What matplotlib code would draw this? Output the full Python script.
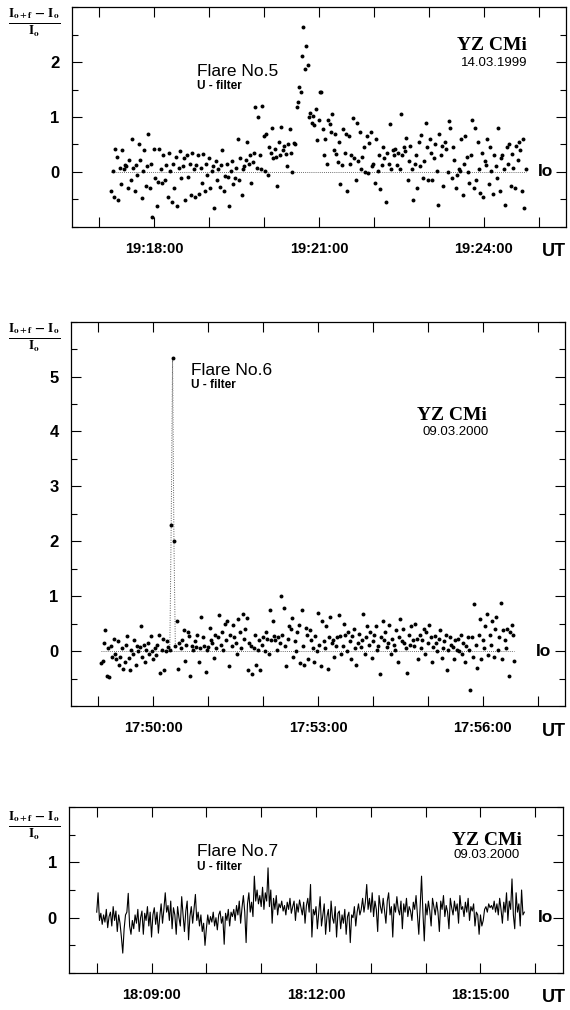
import numpy as np
import matplotlib
matplotlib.use("Agg")
import matplotlib.pyplot as plt
from matplotlib.ticker import MultipleLocator, FixedLocator

plt.rcParams['font.family'] = 'Liberation Sans'
plt.rcParams['mathtext.fontset'] = 'stix'


def minutes(hms):
    h, m, s = [int(p) for p in hms.split(':')]
    return h * 60 + m + s / 60.0


# ---- Flare No.5, YZ CMi 14.03.1999 (points) ----
start5 = '19:17:13'
step5 = 1.5  # seconds between samples
flux5 = [
    -.35, .02, -.45, .42, .28, -.52, .08, -.22, .40, .05, .12, .10, -.30, .22, -.15,
    .60, .08, -.35, .13, -.05, .50, .22, -.48, .02, .40, -.25, .10, .70, -.30, .15,
    -.82, .42, -.12, -.62, -.18, .42, .05, -.20, .30, -.15, .12, -.45, .35, .02, -.55,
    .15, -.30, .28, -.62, .08, .38, -.12, .10, .25, -.52, .30, -.10, .15, -.42, .35,
    .05, -.45, .12, .30, -.40, .08, -.20, .32, -.35, .15, -.05, .25, -.30, .02, .10,
    -.65, .20, -.15, .05, -.28, .12, .40, -.35, -.08, .15, -.10, -.62, .02, .20, -.22,
    -.12, .08, .60, -.15, .25, -.42, .05, .10, .22, .55, .15, .30, -.20, .18, .35,
    1.18, .08, 1.00, .30, .05, 1.20, .65, .02, .70, -.05, .45, .35, .80, .25, .42,
    .28, -.25, .55, .30, .82, .40, .48, .32, .10, .50, .78, .35, .00, .52, .50,
    1.18, 1.28, 1.55, 1.45, 2.12, 2.64, 1.88, 2.30, 1.95, 1.00, 1.08, .90, 1.02, .85, 1.15,
    .58, .95, 1.45, 1.45, .78, .30, .60, .15, .95, .88, .72, 1.05, .40, .70, .32,
    .18, .55, -.22, .12, .78, .35, .70, -.35, .65, .15, .30, .98, .25, -.15, .90,
    .20, .72, .05, .28, .45, .00, .65, -.02, .52, .72, .10, .15, -.20, .60, .02,
    .30, -.32, .12, .45, .25, -.55, .35, .15, .88, .05, .40, .30, .42, .12, .35,
    .05, 1.05, .30, .45, .38, .62, -.15, .20, .48, .05, -.52, .15, .30, -.30, .55,
    .10, .68, -.12, .20, .90, .45, -.15, .60, .35, -.15, .25, .50, .02, -.60, .70,
    .30, .48, -.25, .55, .42, .00, .92, .80, -.12, .45, .22, -.30, -.05, .05, .02,
    .60, -.42, .15, .65, .28, .00, -.20, .30, .95, -.30, .80, -.15, .55, .05, -.38,
    .35, -.45, .20, .12, .60, -.22, .45, .02, -.40, .30, .10, -.12, .80, -.35, .25,
    .30, .05, -.60, .45, .15, .50, -.25, .32, .08, -.30, .48, .22, .55, .40, -.35,
    .60, -.65, .05,
]
ticks5 = ['19:18:00', '19:21:00', '19:24:00']
xlim5 = ['19:16:30', '19:25:30']
ylim5 = [-1, 3]

# ---- Flare No.6, YZ CMi 09.03.2000 (points) ----
start6 = '17:49:03'
step6 = 1.5
flux6 = [
    -.22, -.18, .15, .38, -.45, .05, -.48, .10, -.10, .22, -.05, -.15, .18, -.25, -.10,
    .05, -.32, -.20, .12, .28, -.12, -.35, .02, -.05, .20, -.25, .10, .00, .08, .45,
    -.10, .12, -.20, .02, .15, -.05, .28, .00, -.15, .05, -.08, .12, .30, -.40, .02,
    .22, -.35, .00, .18, .08, .02, 2.30, 5.33, 2.00, .10, .55, -.32, .15, .05, .20,
    .38, -.18, .12, .35, .28, -.45, .10, .02, .18, .08, .30, -.20, .05, .62, .25,
    .10, -.38, .02, .08, .42, .20, .15, -.12, .30, .05, .25, .65, .12, .35, .02,
    .50, .20, .55, -.28, .30, .10, .48, .25, .15, -.05, .58, .35, .05, .68, .22,
    .40, .60, -.35, .15, .10, -.42, .05, .30, -.25, .02, .20, -.35, .12, .25, .00,
    .35, .22, -.05, .75, .20, .55, .28, .20, .02, .25, .15, 1.00, .30, .78, .10,
    -.28, .22, .45, .40, .60, -.10, .18, .00, .35, .48, -.22, .75, .10, -.25, .42,
    .30, -.15, .38, .20, .05, -.20, .28, .00, .70, .12, -.28, .55, .18, .05, .45,
    -.32, .25, .62, .15, .20, -.10, .10, .25, .65, .28, -.05, .10, .50, .30, .00,
    .35, .18, -.15, .28, .40, .05, -.25, .15, .32, .08, .20, .68, -.05, .25, .45,
    .12, .35, -.12, .18, .30, .45, .02, .10, -.42, .25, .55, .20, .35, .08, .15,
    .48, -.05, .22, .12, .02, .38, -.20, .25, .58, .18, .40, .15, .05, -.40, .30,
    .12, .45, .20, .10, .50, .22, -.15, .30, .05, .20, .40, -.05, .35, .15, .48,
    .25, -.20, .08, .28, .15, .00, .22, .38, -.12, .05, .18, .30, -.35, .02, .25,
    .12, .08, -.15, .20, .02, .22, .00, .30, -.05, .15, -.20, .10, .25, .02, -.70,
    .25, -.10, .85, .12, -.30, .30, .58, -.15, .20, .05, .45, .68, -.08, .30, .12,
    .55, -.10, .40, .62, .02, .25, .88, -.15, .38, .20, .05, .40, -.45, .35, .48,
    .30, -.18,
]
ticks6 = ['17:50:00', '17:53:00', '17:56:00']
xlim6 = ['17:48:30', '17:57:30']
ylim6 = [-1, 6]

# ---- Flare No.7, YZ CMi 09.03.2000 (line) ----
start7 = '18:08:00'
step7 = 1.5
flux7 = [
    .10, .45, -.05, .08, -.12, .05, -.08, .15, -.18, .02, .10, -.15, .20, -.05, .12, -.25, .05, -.10, -.35, -.64,
    -.20, .05, .10, .44, -.15, -.30, -.05, -.20, .05, -.10, .15, -.25, .00, .12, -.30, .08, -.05, .20, -.15, .10,
    -.35, .05, .18, -.12, .10, -.28, .02, .25, -.10, .15, .45, .10, .22, -.05, .30, -.20, .18, .05, -.30, .20,
    .00, -.15, .38, .05, -.25, .12, .30, -.40, .02, .20, -.10, .15, .42, -.05, .10, -.15, .05, -.25, -.10, -.50,
    -.20, .05, -.12, .02, -.08, .10, -.15, .00, -.22, .05, .12, -.10, .02, -.48, .08, -.05, .15, -.15, .10, .02,
    .15, -.05, .22, .05, .30, -.10, .18, .40, .10, -.45, .25, .45, .10, .28, .02, .75, .30, .50, .25, .40,
    .20, .55, .15, .45, .30, .90, .20, .50, -.10, .35, .15, .40, .05, .25, .18, .30, .12, .22, .05, .28,
    .15, .35, .08, .20, .30, -.05, .25, .10, .32, .18, .05, .28, -.10, .22, .35, .10, .60, -.35, .15, .05,
    .20, -.20, .10, .38, -.15, .05, .25, -.30, .02, .15, -.25, .30, .00, -.10, .20, -.35, .08, .12, -.20, .05,
    -.10, .15, -.30, .02, .10, -.45, .05, .00, .20, -.15, .10, .25, .05, .15, .35, .10, .28, .60, .15, .35,
    .10, .45, .02, .30, .15, -.25, .40, .20, .08, .35, .12, -.10, .30, .45, .05, .20, -.35, .25, .10, .38,
    .15, .05, .30, -.20, .25, .10, .35, .02, .20, .12, -.05, .28, .15, .40, .05, -.30, .20, .75, .10, -.42,
    .25, .05, .30, .12, -.15, .35, .20, .05, .28, .10, -.25, .30, .15, .40, .02, .22, .10, -.20, .35, .18,
    .05, .30, .12, .25, -.10, .40, .15, .20, .02, .28, .10, .35, -.05, .20, .12, .25, -.15, .10, .05, -.30,
    .05, -.15, -.05, .15, .20, .10, .25, .18, .22, .15, .30, .10, .25, .05, .35, .15, -.10, .28, .10, .45,
    -.05, .30, .15, .70, .05, -.20, .45, .10, .25, -.15, .50, .05, .10,
]
ticks7 = ['18:09:00', '18:12:00', '18:15:00']
xlim7 = ['18:07:30', '18:16:30']
ylim7 = [-1, 2]

star = 'YZ CMi'
filt = 'U - filter'

fig = plt.figure(figsize=(5.7, 10.1), dpi=100)

panels = [
    dict(rect=[0.1263, 0.7755, 0.8667, 0.2172], start=start5, step=step5, flux=flux5,
         ticks=ticks5, xlim=xlim5, ylim=ylim5, kind='points', name='Flare No.5',
         date='14.03.1999', flare_xy=(0.253, 0.706), filt_xy=(0.253, 0.640),
         star_xy=(0.850, 0.824), date_xy=(0.854, 0.748), io_x=0.943,
         lab_y=1 - 23 / 1010, ut_y=1 - 252 / 1010),
    dict(rect=[0.1246, 0.3010, 0.8667, 0.3805], start=start6, step=step6, flux=flux6,
         ticks=ticks6, xlim=xlim6, ylim=ylim6, kind='points', name='Flare No.6',
         date='09.03.2000', flare_xy=(0.243, 0.874), filt_xy=(0.243, 0.836),
         star_xy=(0.771, 0.755), date_xy=(0.779, 0.712), io_x=0.940,
         lab_y=1 - 338 / 1010, ut_y=1 - 731 / 1010),
    dict(rect=[0.1216, 0.0366, 0.8656, 0.1644], start=start7, step=step7, flux=flux7,
         ticks=ticks7, xlim=xlim7, ylim=ylim7, kind='line', name='Flare No.7',
         date='09.03.2000', flare_xy=(0.259, 0.729), filt_xy=(0.259, 0.640),
         star_xy=(0.846, 0.801), date_xy=(0.846, 0.711), io_x=0.950,
         lab_y=1 - 826 / 1010, ut_y=1 - 998 / 1010),
]

for p in panels:
    ax = fig.add_axes(p['rect'])
    y = np.array(p['flux'])
    t = minutes(p['start']) + np.arange(len(y)) * p['step'] / 60.0

    if p['kind'] == 'points':
        ax.hlines(0, t[0], t[-1], colors='0.25', linestyles=(0, (1, 1.5)), lw=0.6)
        k = int(np.argmax(y))
        if y[k] > 4:
            # dotted trace through the flare spike
            ax.plot(t[k - 2:k + 3], y[k - 2:k + 3], ls=(0, (1, 1.5)), lw=0.7, color='0.35')
        ax.scatter(t, y, s=8, color='black', linewidths=0, zorder=3)
    else:
        ax.plot(t, y, color='black', lw=0.8)

    ax.set_xlim(minutes(p['xlim'][0]), minutes(p['xlim'][1]))
    ax.set_ylim(*p['ylim'])

    ax.xaxis.set_major_locator(FixedLocator([minutes(s) for s in p['ticks']]))
    ax.xaxis.set_minor_locator(MultipleLocator(1))
    ax.set_xticklabels(p['ticks'])
    ax.yaxis.set_major_locator(FixedLocator(np.arange(0, p['ylim'][1])))
    ax.yaxis.set_minor_locator(MultipleLocator(0.5))

    ax.tick_params(axis='x', which='both', direction='in', top=True, bottom=True,
                   length=7, width=0.8)
    ax.tick_params(axis='x', which='major', pad=11, labelsize=10.5)
    ax.tick_params(axis='y', which='major', direction='in', left=True, right=True,
                   length=7, width=0.8, pad=9, labelsize=12)
    ax.tick_params(axis='y', which='minor', direction='in', left=True, right=True,
                   length=4, width=0.8)
    for lbl in ax.get_xticklabels() + ax.get_yticklabels():
        lbl.set_fontweight('bold')
    for s in ax.spines.values():
        s.set_linewidth(0.9)

    ax.text(*p['flare_xy'], p['name'], transform=ax.transAxes, fontsize=12.5,
            ha='left', va='center')
    ax.text(*p['filt_xy'], filt, transform=ax.transAxes, fontsize=8.5,
            fontweight='bold', ha='left', va='center')
    ax.text(*p['star_xy'], star, transform=ax.transAxes, fontsize=14,
            family='Liberation Serif', fontweight='bold', ha='center', va='center')
    ax.text(*p['date_xy'], p['date'], transform=ax.transAxes, fontsize=9.5,
            ha='center', va='center')
    ax.text(p['io_x'], 0, 'Io', transform=ax.get_yaxis_transform(), fontsize=12.5,
            fontweight='bold', ha='left', va='center')

    fig.text(34 / 570, p['lab_y'], r'$\mathbf{\frac{I_{o+f}\,-\,I_o}{I_o}}$',
             fontsize=13.5, ha='center', va='center')
    fig.text(542 / 570, p['ut_y'], 'UT', fontsize=13, fontweight='bold',
             ha='left', va='center')

fig.savefig('out.png', dpi=100)
